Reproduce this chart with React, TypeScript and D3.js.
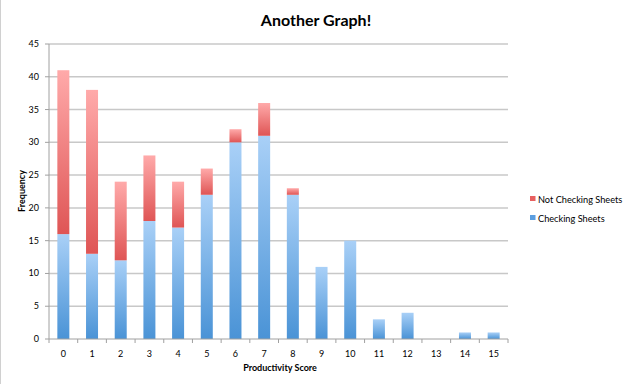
import React from "react";
import * as d3 from "d3";

const categories = ["0","1","2","3","4","5","6","7","8","9","10","11","12","13","14","15"];
const checking = [16,13,12,18,17,22,30,31,22,11,15,3,4,0,1,1];
const notChecking = [25,25,12,10,7,4,2,5,1,0,0,0,0,0,0,0];
const yTicks = [0,5,10,15,20,25,30,35,40,45];
const seriesNames = ["Not Checking Sheets", "Checking Sheets"];

const W = 632, H = 384;
const left = 49, right = 508, top = 44, bottom = 339;
const font = "Lato, 'Open Sans', sans-serif";

export default function App() {
  const x = d3.scaleBand<string>().domain(categories).range([left, right]).paddingInner(0).paddingOuter(0);
  const y = d3.scaleLinear().domain([0, 45]).range([bottom, top]);
  const bw = 12;
  const stackData = categories.map((c, i) => ({ c, checking: checking[i], not: notChecking[i] }));
  const stack = d3.stack<any>().keys(["checking", "not"])(stackData);
  const bounds = d3.range(categories.length + 1).map(i => left + i * x.bandwidth());
  return (
    <svg width={W} height={H} style={{ position: "absolute", left: 0, top: 0, background: "#fff" }}>
      <defs>
        <linearGradient id="gBlue" x1="0" y1="0" x2="0" y2="1">
          <stop offset="0" stopColor="#a9d0f7" />
          <stop offset="1" stopColor="#4a93d6" />
        </linearGradient>
        <linearGradient id="gRed" x1="0" y1="0" x2="0" y2="1">
          <stop offset="0" stopColor="#ffaaaa" />
          <stop offset="1" stopColor="#df5555" />
        </linearGradient>
      </defs>
      <line x1={0.5} y1={0} x2={0.5} y2={H} stroke="#d0d0d0" />
      <text x={316} y={26} textAnchor="middle" fontFamily={font} fontWeight="bold" fontSize={16} fill="#000">Another Graph!</text>
      {yTicks.map(t => (
        <g key={t}>
          {t > 0 && <line x1={left} x2={right} y1={y(t)} y2={y(t)} stroke="#c8c8c8" strokeWidth={1.5} />}
          <line x1={left - 4} x2={left} y1={y(t)} y2={y(t)} stroke="#a0a0a0" />
          <text x={39} y={y(t) + 3} textAnchor="end" fontFamily={font} fontSize={9} fill="#000">{t}</text>
        </g>
      ))}
      {stack.map((s, si) => (
        <g key={s.key}>
          {s.map((d, i) => d[1] - d[0] > 0 ? (
            <rect key={i} x={(x(categories[i]) as number) + x.bandwidth() / 2 - bw / 2} width={bw}
              y={y(d[1])} height={y(d[0]) - y(d[1])} fill={si === 0 ? "url(#gBlue)" : "url(#gRed)"} />
          ) : null)}
        </g>
      ))}
      <line x1={left} x2={left} y1={top} y2={bottom} stroke="#a0a0a0" />
      <line x1={left} x2={right} y1={bottom} y2={bottom} stroke="#a0a0a0" />
      {bounds.map((b, i) => (
        <line key={i} x1={b} x2={b} y1={bottom} y2={bottom + 4} stroke="#a0a0a0" />
      ))}
      {categories.map(c => (
        <text key={c} x={(x(c) as number) + x.bandwidth() / 2} y={357} textAnchor="middle" fontFamily={font} fontSize={9} fill="#000">{c}</text>
      ))}
      <text x={280} y={371} textAnchor="middle" fontFamily={font} fontWeight="bold" fontSize={9} fill="#000">Productivity Score</text>
      <text transform={`translate(25,191) rotate(-90)`} textAnchor="middle" fontFamily={font} fontWeight="bold" fontSize={9} fill="#000">Frequency</text>
      <rect x={530} y={196} width={5.5} height={5} fill="#e86060" />
      <text x={538} y={203} fontFamily={font} fontSize={9.2} fill="#000">{seriesNames[0]}</text>
      <rect x={530} y={215} width={5.5} height={5} fill="#5b9ee0" />
      <text x={538} y={222} fontFamily={font} fontSize={9.2} fill="#000">{seriesNames[1]}</text>
    </svg>
  );
}
